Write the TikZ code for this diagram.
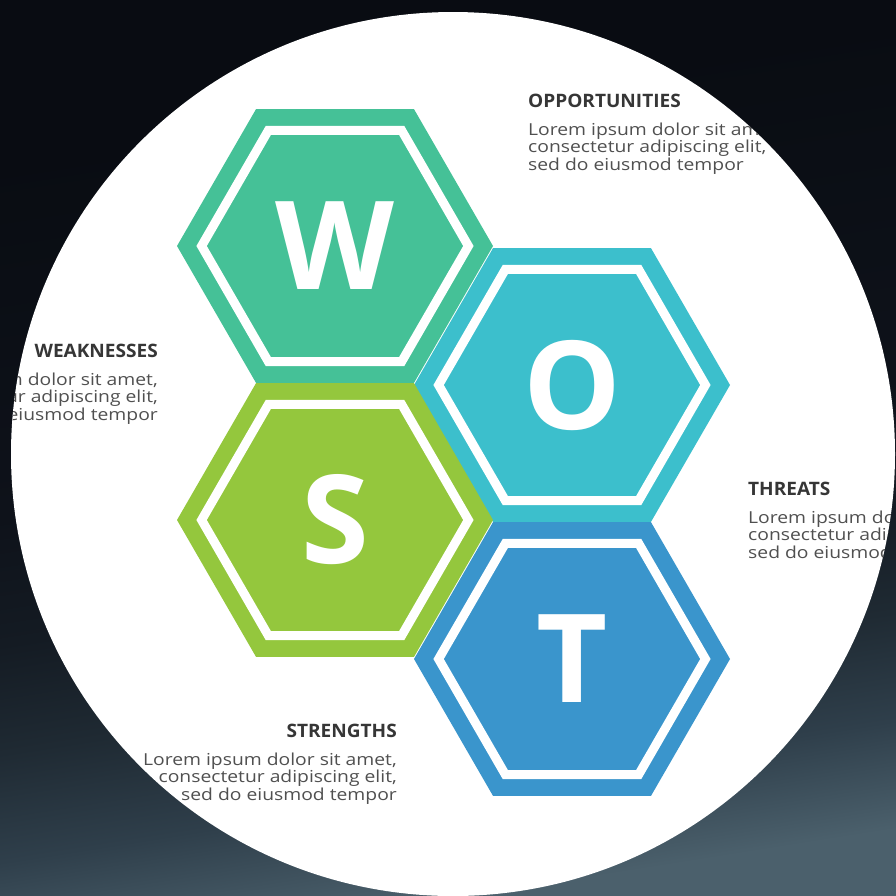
\documentclass[tikz,border=0pt]{standalone}
\usepackage{fontspec}
\setmainfont{Open Sans}
\newfontfamily\headfont[FakeStretch=1.03]{Open Sans}
\newfontfamily\copyfont[FakeStretch=1.17]{Open Sans}

% palette
\definecolor{wcol}{HTML}{45C197}
\definecolor{ocol}{HTML}{3CBFCC}
\definecolor{scol}{HTML}{94C73D}
\definecolor{tcol}{HTML}{3A95CC}
\definecolor{titlecol}{HTML}{363636}
\definecolor{bodycol}{HTML}{505050}
\definecolor{bgA}{HTML}{090C12}
\definecolor{bgAA}{HTML}{0E121A}
\definecolor{bgB}{HTML}{141B23}
\definecolor{bgC}{HTML}{1F2A33}
\definecolor{bgD}{HTML}{2F3F4B}
\definecolor{bgE}{HTML}{4B606C}

% backdrop: dark at the top, slate towards the bottom
\pgfdeclareverticalshading{backdrop}{100bp}{%
  color(0bp)=(bgE); color(25bp)=(bgE); color(31bp)=(bgD);
  color(37bp)=(bgC); color(43bp)=(bgB); color(50bp)=(bgAA);
  color(70bp)=(bgA); color(100bp)=(bgA)}

\tikzset{
  letter/.style={text=white, inner sep=0pt,
    font=\fontsize{123}{123}\selectfont\bfseries},
  ttl/.style={text=titlecol, inner sep=0pt,
    font=\headfont\fontsize{18.5}{20}\selectfont\bfseries},
  bdy/.style={text=bodycol, inner sep=0pt,
    font=\copyfont\fontsize{16.5}{18}\selectfont},
}

% one honeycomb cell: name, x, y, colour, letter
\newcommand\hexcell[5]{%
  \fill[#4] (#2,#3) ++(0:158) -- ++(120:158) -- ++(180:158)
    -- ++(240:158) -- ++(300:158) -- ++(0:158) -- cycle;
  \draw[white, line width=9pt, line join=miter] (#2,#3) ++(0:133.4)
    -- ++(120:133.4) -- ++(180:133.4) -- ++(240:133.4)
    -- ++(300:133.4) -- ++(0:133.4) -- cycle;
  \node[letter] (#1) at (#2,#3) {#5};
}

\begin{document}
\begin{tikzpicture}[x=1pt,y=-1pt]
  \useasboundingbox (0,0) rectangle (896,895);

  \shade[shading=backdrop, shading angle=9] (0,0) rectangle (896,895);

  \fill[white] (453,454) circle (442);

  \hexcell{w}{335}{246}{wcol}{W}
  \hexcell{o}{572}{385}{ocol}{O}
  \hexcell{s}{335}{520}{scol}{S}
  \hexcell{t}{572}{659}{tcol}{T}

  \begin{scope}
    \clip (453,454) circle (442);
    % opportunities
    \node[ttl, anchor=base west] (optitle) at (528,107) {OPPORTUNITIES};
    \node[bdy, anchor=base west] (opa) at (528,135) {Lorem ipsum dolor sit amet,};
    \node[bdy, anchor=base west] (opb) at (528,152.5) {consectetur adipiscing elit,};
    \node[bdy, anchor=base west] (opc) at (528,170) {sed do eiusmod tempor};
    % weaknesses
    \node[ttl, anchor=base east] (wktitle) at (158,357) {WEAKNESSES};
    \node[bdy, anchor=base east] (wka) at (158,385) {Lorem ipsum dolor sit amet,};
    \node[bdy, anchor=base east] (wkb) at (158,402.5) {consectetur adipiscing elit,};
    \node[bdy, anchor=base east] (wkc) at (158,420) {sed do eiusmod tempor};
    % threats
    \node[ttl, anchor=base west] (thtitle) at (748,495) {THREATS};
    \node[bdy, anchor=base west] (tha) at (748,523) {Lorem ipsum dolor sit amet,};
    \node[bdy, anchor=base west] (thb) at (748,540.5) {consectetur adipiscing elit,};
    \node[bdy, anchor=base west] (thc) at (748,558) {sed do eiusmod tempor};
    % strengths
    \node[ttl, anchor=base east] (sttitle) at (397,737) {STRENGTHS};
    \node[bdy, anchor=base east] (sta) at (397,765) {Lorem ipsum dolor sit amet,};
    \node[bdy, anchor=base east] (stb) at (397,782.5) {consectetur adipiscing elit,};
    \node[bdy, anchor=base east] (stc) at (397,800) {sed do eiusmod tempor};
  \end{scope}
\end{tikzpicture}
\end{document}
